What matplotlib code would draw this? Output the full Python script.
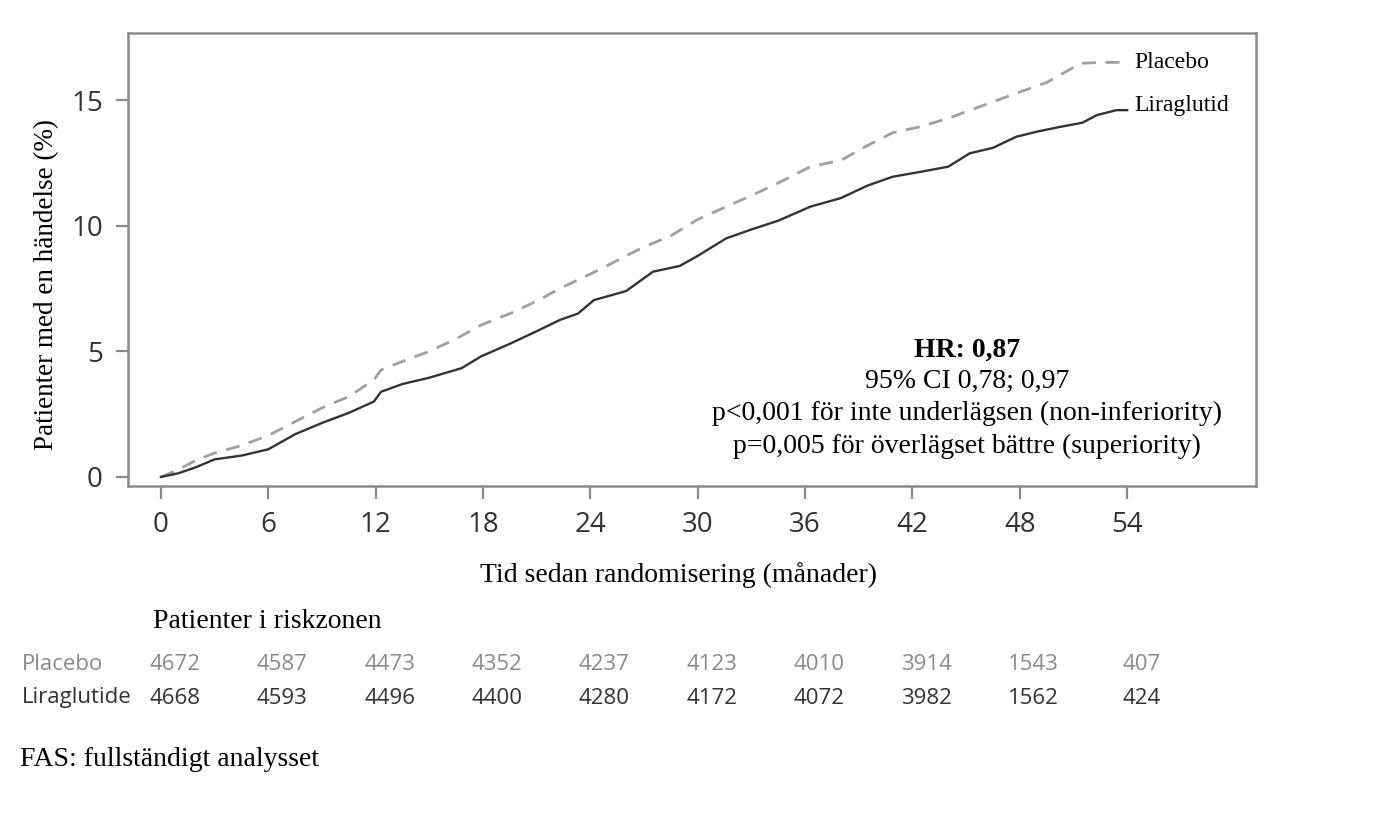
import numpy as np
import matplotlib.pyplot as plt

# kurvor (månader, % patienter med händelse)
plac_t = [0, 1, 2, 3, 4.5, 6, 7.5, 9, 10.5, 11.9, 12.3, 13.5, 15, 16.5, 17.9, 19.5, 21, 22.3, 23.3,
          24.5, 26, 27, 28.5, 30, 31.6, 33, 34.5, 36.3, 38, 39.5, 40.9, 42.5, 44.1, 46, 47.8, 49.5,
          51.4, 52.5, 54]
plac_v = [0, 0.3, 0.68, 0.95, 1.25, 1.65, 2.2, 2.75, 3.2, 3.86, 4.26, 4.6, 5.0, 5.5, 6.05, 6.5, 7.0,
          7.5, 7.84, 8.25, 8.8, 9.16, 9.6, 10.25, 10.76, 11.2, 11.7, 12.35, 12.6, 13.2, 13.7, 13.95,
          14.3, 14.8, 15.27, 15.7, 16.46, 16.5, 16.5]

lira_t = [0, 1, 2, 3, 4.5, 6, 7.5, 9, 10.5, 11.9, 12.3, 13.5, 15, 16.8, 17.9, 19.5, 21, 22.3, 23.3,
          24.2, 26, 27.5, 29, 30, 31.6, 33, 34.5, 36.3, 38, 39.5, 40.9, 42.5, 44, 45.2, 46.5, 47.8,
          49, 50.3, 51.5, 52.3, 53.4, 54]
lira_v = [0, 0.15, 0.4, 0.7, 0.85, 1.1, 1.7, 2.15, 2.55, 3.0, 3.39, 3.7, 3.95, 4.33, 4.8, 5.3, 5.8,
          6.25, 6.5, 7.04, 7.4, 8.17, 8.4, 8.8, 9.5, 9.85, 10.2, 10.76, 11.1, 11.6, 11.95, 12.15,
          12.35, 12.88, 13.1, 13.54, 13.75, 13.94, 14.1, 14.4, 14.6, 14.6]

months = [0, 6, 12, 18, 24, 30, 36, 42, 48, 54]
risk_plac = [4672, 4587, 4473, 4352, 4237, 4123, 4010, 3914, 1543, 407]
risk_lira = [4668, 4593, 4496, 4400, 4280, 4172, 4072, 3982, 1562, 424]

W, H = 1386, 824
fig = plt.figure(figsize=(W / 100, H / 100), dpi=100)
ax = fig.add_axes([128 / W, 1 - 486 / H, (1256 - 128) / W, (486 - 33) / H])

ax.plot(plac_t, plac_v, color='#a0a0a0', lw=2.0, ls=(0, (5, 3.5)))
ax.plot(lira_t, lira_v, color='#333333', lw=1.7)

ax.set_xlim(-1.84, 61.2)
ax.set_ylim(-0.36, 17.67)
ax.set_xticks(months)
ax.set_yticks([0, 5, 10, 15])

for s in ax.spines.values():
    s.set_color('#8a8a8a')
    s.set_linewidth(1.8)
ax.tick_params(direction='out', length=9, width=1.6, color='#8a8a8a', labelcolor='#333333',
               labelsize=20, pad=9)
for lab in ax.get_xticklabels() + ax.get_yticklabels():
    lab.set_family('Open Sans')

serif = 'Liberation Serif'
ax.set_ylabel('Patienter med en händelse (%)', family=serif, fontsize=19.5)
ax.yaxis.set_label_coords(-0.061, 0.445)
ax.set_xlabel('Tid sedan randomisering (månader)', family=serif, fontsize=20)
ax.xaxis.set_label_coords((678 - 128) / (1256 - 128), -(575 - 486) / (486 - 33))
ax.xaxis.label.set_va('center')

# serienamn vid kurvornas slut
ax.text(54.4, plac_v[-1], 'Placebo', family=serif, fontsize=17, va='center')
ax.text(54.4, 14.8, 'Liraglutid', family=serif, fontsize=17, va='center')

# HR-ruta
cx = 967 / W
fig.text(cx, 1 - 350 / H, 'HR: 0,87', family=serif, fontsize=20, weight='bold', ha='center', va='center')
fig.text(cx, 1 - 381 / H, '95% CI 0,78; 0,97', family=serif, fontsize=20, ha='center', va='center')
fig.text(cx, 1 - 413 / H, 'p<0,001 för inte underlägsen (non-inferiority)', family=serif, fontsize=20,
         ha='center', va='center')
fig.text(cx, 1 - 446 / H, 'p=0,005 för överlägset bättre (superiority)', family=serif, fontsize=20,
         ha='center', va='center')

# riskzon-tabell
fig.text(153 / W, 1 - 622 / H, 'Patienter i riskzonen', family=serif, fontsize=20, va='center')
fig.text(22 / W, 1 - 665 / H, 'Placebo', family='Open Sans', fontsize=16, color='#8a8a8a', va='center')
fig.text(22 / W, 1 - 698 / H, 'Liraglutide', family='Open Sans', fontsize=16, color='#333333', va='center')
for m, p, l in zip(months, risk_plac, risk_lira):
    xf = ax.transData.transform((m, 0))[0] / W + 14 / W
    fig.text(xf, 1 - 665 / H, str(p), family='Open Sans', fontsize=16, color='#8a8a8a', ha='center', va='center')
    fig.text(xf, 1 - 698 / H, str(l), family='Open Sans', fontsize=16, color='#333333', ha='center', va='center')

fig.text(20 / W, 1 - 760 / H, 'FAS: fullständigt analysset', family=serif, fontsize=20, va='center')

plt.savefig('out.png', dpi=100)
